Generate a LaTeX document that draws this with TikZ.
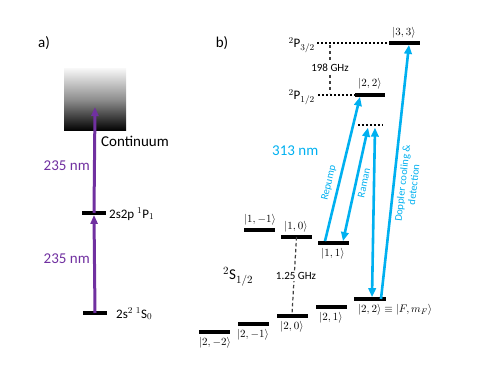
\documentclass[tikz,border=0pt]{standalone}
\usepackage{fontspec}
\setmainfont{Carlito}
\usetikzlibrary{arrows.meta}
\definecolor{laserblue}{RGB}{0,176,240}
\definecolor{laserpurple}{RGB}{112,48,160}
\begin{document}
\begin{tikzpicture}[x=1pt,y=-1pt,
  lvl/.style={fill=black,inner sep=0pt,minimum height=3.4pt},
  big/.style={font=\fontsize{15}{17}\selectfont,inner sep=0pt},
  mid/.style={font=\fontsize{13}{15}\selectfont,inner sep=0pt},
  small/.style={font=\fontsize{11}{12}\selectfont,inner sep=0pt},
  ket/.style={font=\fontsize{11}{12}\selectfont,inner sep=0pt},
  rot/.style={text=laserblue,inner sep=0pt,font=\fontsize{10.5}{11.5}\selectfont},
  parrow/.style={draw=laserpurple,line width=3pt,-{Triangle[length=9pt,width=7pt]}},
  barrow/.style={draw=laserblue,line width=2.6pt,-{Triangle[length=9pt,width=7.5pt]}},
  bdarrow/.style={draw=laserblue,line width=2.6pt,{Triangle[length=9pt,width=7.5pt]}-{Triangle[length=9pt,width=7.5pt]}},
  dotline/.style={line width=2pt,dash pattern=on 2pt off 2pt},
  dashline/.style={line width=1.2pt,dash pattern=on 3.5pt off 2.5pt,black!75},
  gap/.style={fill=white,inner sep=1pt}
]
\useasboundingbox (0,0) rectangle (491,379);

% ---------- panel a ----------
\node[big] (la) at (44,43) {a)};
\shade[top color=black!4,bottom color=black,middle color=black!45] (64,69) rectangle (126,131);
\coordinate (cont) at (95,107);
\node[big,anchor=west] (conttxt) at (101,141) {Continuum};
\node[lvl,minimum width=24pt] (p1) at (94,213) {};
\node[lvl,minimum width=24pt] (g) at (95,313) {};
\draw[parrow] (g.center) -- (p1.south);
\draw[parrow] (p1.center) -- (cont);
\node[big,text=laserpurple,anchor=east] (w1) at (90,166) {235 nm};
\node[big,text=laserpurple,anchor=east] (w2) at (90,259) {235 nm};
\node[mid,anchor=west] (p1txt) at (109,214) {2s2p $^{1}$P$_{1}$};
\node[mid,anchor=west] (gtxt) at (116,314) {2s$^{2}$ $^{1}$S$_{0}$};

% ---------- panel b ----------
\node[big] (lb) at (222,43) {b)};
% P manifold
\node[lvl,minimum width=31pt] (p33) at (404,43) {};
\node[lvl,minimum width=30pt] (p22) at (370,95) {};
\node[ket] (k33) at (404,33) {$|3,3\rangle$};
\node[ket] (k22p) at (370,84) {$|2,2\rangle$};
\coordinate (d32) at (317,43);
\coordinate (d12) at (318,95);
\draw[dotline] (d32) -- (p33.west);
\draw[dotline] (d12) -- (p22.west);
\node[mid,anchor=base east] (p32txt) at (315,48) {$^{2}$P$_{3/2}$};
\node[mid,anchor=base east] (p12txt) at (315,100) {$^{2}$P$_{1/2}$};
\coordinate (f1) at (330,45);
\coordinate (f2) at (330,93);
\draw[dashline] (f1) -- (f2);
\node[small,gap] (ghz198) at (330,68) {198 GHz};
% virtual level
\node[inner sep=0pt,minimum width=25pt,minimum height=5pt] (virt) at (370.5,125) {};
\draw[dotline] (virt.west) -- (virt.east);
\node[big,text=laserblue,anchor=west] (nm313) at (272,151) {313 nm};
% S manifold
\node[lvl,minimum width=31pt] (s1m) at (259.5,230) {};
\node[lvl,minimum width=31pt] (s10) at (296.5,237) {};
\node[lvl,minimum width=31pt] (s11) at (333.5,243) {};
\node[lvl,minimum width=31pt] (s2m2) at (214.5,332) {};
\node[lvl,minimum width=31pt] (s2m1) at (253.5,324) {};
\node[lvl,minimum width=31pt] (s20) at (292,316) {};
\node[lvl,minimum width=31pt] (s21) at (331.5,307) {};
\node[lvl,minimum width=32pt] (s22) at (370,299) {};
\node[ket] (k1m) at (260,220) {$|1,-1\rangle$};
\node[ket] (k10) at (296,227) {$|1,0\rangle$};
\node[ket] (k11) at (333,254) {$|1,1\rangle$};
\node[ket] (k2m2) at (215,343) {$|2,-2\rangle$};
\node[ket] (k2m1) at (253,335) {$|2,-1\rangle$};
\node[ket] (k20) at (292,327) {$|2,0\rangle$};
\node[ket] (k21) at (331,318) {$|2,1\rangle$};
\node[ket,anchor=west] (k22s) at (358,310) {$|2,2\rangle\equiv|F,m_F\rangle$};
\node[big,anchor=base west] (s12txt) at (223,280) {$^{2}$S$_{1/2}$};
\draw[dashline] (s10.center) -- (s20.center |- s20.north);
\node[small,gap] (ghz125) at (296,276) {1.25 GHz};
% laser arrows
\coordinate (rpA) at ([xshift=-8.5pt]s11.north);
\coordinate (rpB) at ([xshift=-10pt]p22.south);
\draw[barrow] (rpA) -- (rpB);
\coordinate (rmA) at ([xshift=9.5pt]s11.north);
\coordinate (rmB) at ([xshift=-2.5pt]virt.south);
\draw[bdarrow] (rmA) -- (rmB);
\coordinate (rmC) at ([xshift=2pt]s22.north);
\coordinate (rmD) at ([xshift=4.5pt]virt.south);
\draw[bdarrow] (rmC) -- (rmD);
\coordinate (dcA) at ([xshift=11pt]s22.center);
\coordinate (dcB) at ([xshift=5pt]p33.south);
\draw[barrow] (dcA) -- (dcB);
\node[rot,rotate=76.5] (rplbl) at (329,183) {Repump};
\node[rot,rotate=78] (rmlbl) at (364,183) {Raman};
\node[rot,rotate=83.5,align=center] (dclbl) at (408,184) {Doppler cooling \&\\detection};
\end{tikzpicture}
\end{document}
